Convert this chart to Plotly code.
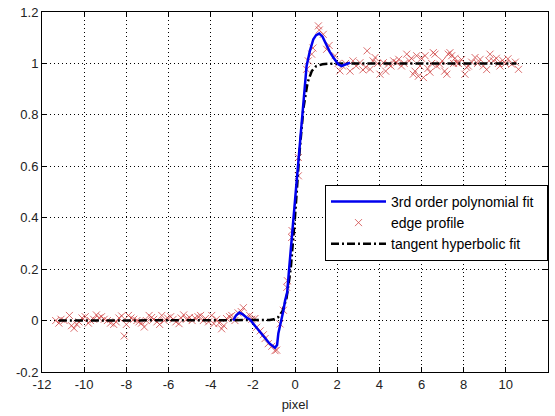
import plotly.graph_objects as go

# ---- edge profile samples (red x) ----
edge_x = [-11.35, -11.2, -11.1, -10.95, -10.7, -10.6, -10.48, -10.35, -10.25, -10.1, -9.95, -9.8, -9.7,
          -9.55, -9.42, -9.3, -9.18, -9.05, -8.9, -8.75, -8.6, -8.48, -8.35, -8.22, -8.1, -8.0, -7.9,
          -7.78, -7.65, -7.5, -7.4, -7.28, -7.15, -7.05, -6.92, -6.8, -6.7, -6.55, -6.42, -6.32, -6.2,
          -6.05, -5.9, -5.78, -5.65, -5.5, -5.4, -5.28, -5.15, -5.0, -4.88, -4.75, -4.6, -4.48, -4.35,
          -4.25, -4.1, -3.95, -3.85, -3.72, -3.6, -3.48, -3.38, -3.25, -3.1, -3.0,
          -2.85, -2.7, -2.55, -2.45, -2.3, -2.15, -2.05, -1.9, -1.82, -1.65, -1.5, -1.42, -1.27, -1.1,
          -0.95, -0.87, -0.71, -0.55, -0.39, -0.36, -0.16, -0.14, 0.16, 0.16, 0.55, 0.63, 0.79, 0.85,
          1.11, 1.15, 1.34, 1.5, 1.62, 1.9, 2.05, 2.13,
          2.25, 2.4, 2.61, 2.75, 2.9, 3.08, 3.22, 3.36, 3.42, 3.56, 3.7, 3.8, 3.92, 4.03, 4.19, 4.3,
          4.43, 4.55, 4.68, 4.82, 4.92, 5.05, 5.18, 5.3, 5.42, 5.52, 5.61, 5.69, 5.77, 5.85, 5.93, 6.0,
          6.09, 6.17, 6.3, 6.4, 6.48, 6.56, 6.64, 6.72, 6.87, 6.98, 7.1, 7.2, 7.27, 7.35, 7.43, 7.52,
          7.59, 7.67, 7.75, 7.9, 8.06, 8.14, 8.22, 8.38, 8.54, 8.66, 8.78, 8.93, 9.09, 9.2, 9.25, 9.41,
          9.55, 9.65, 9.72, 9.85, 9.98, 10.1, 10.28, 10.45, 10.6]
edge_y = [0.0, -0.01, 0.005, 0.0, 0.02, -0.02, -0.03, -0.015, -0.005, 0.01, 0.015, -0.01, 0.0,
          0.005, 0.022, 0.01, 0.015, 0.005, 0.0, -0.01, -0.015, -0.005, 0.01, 0.018, -0.06, -0.015, 0.02,
          0.01, 0.005, 0.0, -0.005, -0.01, -0.025, 0.0, 0.02, 0.012, 0.005, -0.005, -0.015, 0.02, 0.0,
          0.01, 0.015, 0.005, -0.005, -0.012, 0.01, 0.022, 0.005, 0.012, 0.0, 0.01, 0.015, 0.02, 0.0,
          0.008, -0.005, 0.02, -0.012, 0.005, -0.01, -0.032, -0.02, 0.008, 0.015, 0.02,
          0.0, 0.03, 0.035, 0.05, 0.015, 0.02, 0.005, 0.008, -0.026, -0.04, -0.055, -0.07, -0.09, -0.1,
          -0.117, -0.115, -0.013, 0.04, 0.129, 0.155, 0.323, 0.35, 0.563, 0.634, 0.977, 1.01, 1.036, 1.06,
          1.146, 1.13, 1.113, 1.055, 1.07, 1.03, 1.0, 0.971,
          0.99, 1.0, 0.97, 1.01, 0.99, 1.003, 0.975, 0.985, 1.049, 0.977, 1.01, 1.023, 1.0, 0.958, 1.003, 0.97,
          0.997, 0.99, 1.01, 1.003, 1.016, 0.99, 1.0, 1.036, 1.01, 1.02, 0.958, 0.97, 1.03, 0.95, 0.99, 1.02,
          0.945, 1.03, 0.98, 0.966, 1.0, 1.042, 1.036, 0.99, 0.997, 1.01, 0.97, 0.958, 1.036, 1.042, 1.03, 1.0,
          1.02, 1.003, 1.0, 1.015, 0.958, 0.985, 0.99, 1.005, 1.023, 1.0, 1.016, 0.99, 0.976, 1.01, 1.036, 1.01,
          1.02, 1.0, 0.99, 1.012, 1.0, 1.018, 0.997, 1.005, 0.977]

# ---- 3rd order polynomial fit (blue) ----
poly_x = [-2.93, -2.8, -2.64, -2.5, -2.3, -2.13, -1.9, -1.65, -1.42, -1.2, -0.95, -0.85, -0.79, -0.68,
          -0.55, -0.47, -0.37, -0.28, -0.1, 0.14, 0.35, 0.55, 0.71, 0.87, 1.0, 1.15, 1.3, 1.5, 1.65, 1.82,
          2.05, 2.21, 2.4, 2.61]
poly_y = [0.0, 0.02, 0.031, 0.025, 0.012, 0.003, -0.02, -0.045, -0.065, -0.09, -0.106, -0.095, -0.05, -0.013,
          0.039, 0.078, 0.11, 0.2, 0.37, 0.6, 0.8, 0.99, 1.05, 1.094, 1.11, 1.116, 1.105, 1.068, 1.045, 1.023,
          0.997, 0.99, 0.995, 1.003]

# ---- tangent hyperbolic fit (black dash-dot) ----
tanh_x = [-11.2, -3.0, -2.0, -1.5, -1.2, -1.0, -0.8, -0.6, -0.4, -0.2, 0.0, 0.2, 0.4, 0.6, 0.8, 1.0,
          1.3, 1.6, 2.0, 3.0, 10.5]
tanh_y = [0.0, 0.0, 0.0, 0.0005, 0.002, 0.005, 0.013, 0.035, 0.088, 0.204, 0.404, 0.641, 0.826, 0.927,
          0.971, 0.989, 0.997, 0.999, 1.0, 1.0, 1.0]

x_ticks = [-12, -10, -8, -6, -4, -2, 0, 2, 4, 6, 8, 10, 12]
x_labels = ["-12", "-10", "-8", "-6", "-4", "-2", "0", "2", "4", "6", "8", "10", "12"]
y_ticks = [-0.2, 0, 0.2, 0.4, 0.6, 0.8, 1.0, 1.2]
y_labels = ["-0.2", "0", "0.2", "0.4", "0.6", "0.8", "1", "1.2"]

MARK = dict(symbol="x-thin", size=7, line=dict(color="rgba(205,60,60,0.75)", width=1))
BLUE = dict(color="#0000ee", width=2.5)
BLACK = dict(color="black", width=2.5, dash="8px,3px,2px,3px")
PAD = "\u00a0\u00a0"

fig = go.Figure()
fig.add_trace(go.Scatter(x=edge_x, y=edge_y, mode="markers", name="edge profile",
                         marker=MARK, showlegend=False))
fig.add_trace(go.Scatter(x=tanh_x, y=tanh_y, mode="lines", name="tangent hyperbolic fit",
                         line=BLACK, showlegend=False))
fig.add_trace(go.Scatter(x=poly_x, y=poly_y, mode="lines", name="3rd order polynomial fit",
                         line=BLUE, showlegend=False))
# legend entries in MATLAB order
fig.add_trace(go.Scatter(x=[None], y=[None], mode="lines", name="3rd order polynomial fit" + PAD, line=BLUE))
fig.add_trace(go.Scatter(x=[None], y=[None], mode="markers", name="edge profile" + PAD, marker=MARK))
fig.add_trace(go.Scatter(x=[None], y=[None], mode="lines", name="tangent hyperbolic fit" + PAD, line=BLACK))

FONT = dict(family="Liberation Sans, Arial", size=13, color="#222")
axis_common = dict(showline=True, linecolor="black", linewidth=1, mirror="allticks",
                   ticks="inside", ticklen=5, tickcolor="black",
                   showgrid=True, gridcolor="black", griddash="1px,3px", gridwidth=1,
                   zeroline=False, automargin=False, tickfont=FONT)

fig.update_xaxes(range=[-12, 12], tickvals=x_ticks, ticktext=x_labels,
                 title=dict(text="pixel", font=FONT, standoff=9), **axis_common)
fig.update_yaxes(range=[-0.2, 1.2], tickvals=y_ticks, ticktext=y_labels, **axis_common)

fig.update_layout(width=555, height=416, margin=dict(l=42, r=7, t=12, b=44),
                  paper_bgcolor="white", plot_bgcolor="white", font=FONT,
                  legend=dict(x=1.0, y=0.52, xanchor="right", yanchor="top",
                              bgcolor="white", bordercolor="black", borderwidth=1,
                              itemwidth=55, tracegroupgap=0,
                              font=dict(family="Liberation Sans, Arial", size=14, color="black")))

fig.write_html("out.html")
